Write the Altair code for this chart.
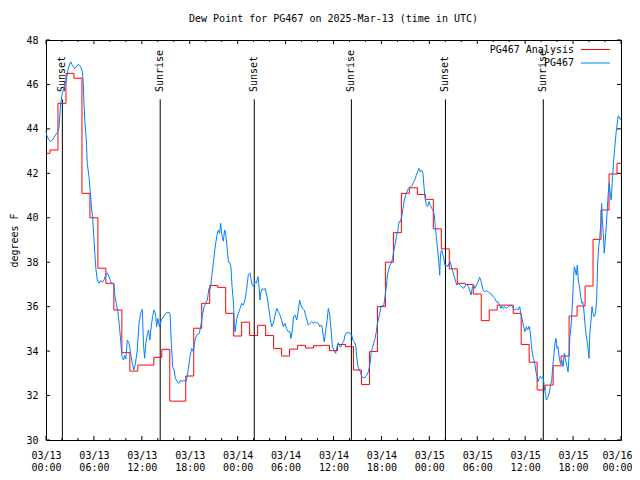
import altair as alt
import pandas as pd

FONT = "DejaVu Sans Mono"
W, H = 575, 400

title_text = "Dew Point for PG467 on 2025-Mar-13 (time in UTC)"
y_title = "degrees F"
series_names = ["PG467 Analysis", "PG467"]
series_colors = ["#ff0000", "#0080ff"]

# hours since 03/13 00:00 UTC
red_t = [0, 1, 2, 3, 4, 5, 6, 7, 8, 9, 10, 11, 12, 13, 14, 15, 16, 17, 18, 19, 20,
         21, 22, 23, 24, 25, 26, 27, 28, 29, 30, 31, 32, 33, 34, 35, 36, 37, 38, 39,
         40, 41, 42, 43, 44, 45, 46, 47, 48, 49, 50, 51, 52, 53, 54, 55, 56, 57, 58,
         59, 60, 61, 62, 63, 64, 65, 66, 67, 68, 69, 70, 71, 72]
red_v = [42.9, 43.05, 45.15, 46.5, 46.28, 41.1, 40.0, 37.73, 37.05, 35.85, 33.93,
         33.1, 33.37, 33.37, 33.72, 34.08, 31.75, 31.75, 32.88, 35.03, 36.15, 36.95,
         36.87, 35.7, 34.68, 35.3, 34.7, 35.16, 34.7, 34.12, 33.78, 34.09, 34.26,
         34.14, 34.24, 34.26, 34.02, 34.3, 34.2, 33.15, 32.5, 33.98, 36.0, 38.0,
         39.33, 41.1, 41.35, 41.05, 40.83, 39.5, 38.6, 37.7, 37.05, 37.0, 36.57,
         35.37, 35.85, 36.07, 36.07, 35.7, 34.3, 33.5, 32.25, 32.47, 33.34, 33.78,
         35.58, 36.03, 36.93, 39.03, 40.35, 41.97, 42.45]

blue_t = [0.0, 0.08, 0.3, 0.58, 0.8, 1.0, 1.2, 1.42, 1.63, 1.84, 2.05, 2.34, 2.55, 2.75,
          2.9, 3.09, 3.25, 3.38, 3.59, 3.75, 3.9, 4.09, 4.2, 4.34, 4.55, 4.67, 4.76,
          4.88, 5.05, 5.17, 5.38, 5.59, 5.72, 5.84, 6.01, 6.22, 6.42, 6.64, 6.84, 7.05,
          7.26, 7.47, 7.68, 7.89, 8.1, 8.3, 8.5, 8.64, 8.8, 9.0, 9.2, 9.35, 9.52, 9.7,
          9.85, 10.0, 10.18, 10.4, 10.6, 10.8, 11.0, 11.2, 11.43, 11.65, 11.85, 12.06,
          12.2, 12.35, 12.5, 12.7, 12.85, 13.0, 13.2, 13.35, 13.52, 13.7, 13.85, 14.0,
          14.2, 14.44, 14.7, 15.0, 15.27, 15.53, 15.7, 15.85, 16.03, 16.2, 16.45, 16.65,
          16.85, 17.05, 17.26, 17.45, 17.6, 17.8, 18.03, 18.24, 18.45, 18.66, 18.87,
          19.2, 19.4, 19.58, 19.8, 20.0, 20.2, 20.4, 20.6, 20.75, 20.95, 21.16, 21.37,
          21.58, 21.73, 21.87, 22.05, 22.2, 22.37, 22.5, 22.7, 22.85, 23.0, 23.15, 23.3,
          23.45, 23.58, 23.67, 23.9, 24.08, 24.3, 24.5, 24.7, 24.92, 25.13, 25.33,
          25.55, 25.66, 25.83, 26.0, 26.16, 26.33, 26.55, 26.67, 26.8, 26.92, 27.1,
          27.26, 27.43, 27.63, 27.76, 27.92, 28.1, 28.26, 28.47, 28.68, 28.9, 29.1,
          29.3, 29.5, 29.72, 29.93, 30.1, 30.35, 30.55, 30.68, 30.85, 31.0, 31.2, 31.4,
          31.6, 31.76, 31.93, 32.1, 32.35, 32.5, 32.67, 32.85, 33.06, 33.27, 33.47,
          33.68, 33.9, 34.1, 34.28, 34.45, 34.6, 34.73, 34.85, 35.0, 35.2, 35.35, 35.5,
          35.7, 35.86, 36.06, 36.27, 36.45, 36.6, 36.77, 36.94, 37.1, 37.27, 37.44,
          37.65, 37.86, 38.07, 38.28, 38.45, 38.6, 38.78, 38.9, 39.03, 39.2, 39.37,
          39.53, 39.74, 39.95, 40.16, 40.37, 40.58, 40.7, 40.86, 41.03, 41.2, 41.36,
          41.5, 41.62, 41.78, 41.95, 42.12, 42.28, 42.45, 42.62, 42.75, 42.9, 43.07,
          43.24, 43.4, 43.57, 43.7, 43.87, 44.04, 44.2, 44.37, 44.54, 44.7, 44.87,
          45.04, 45.2, 45.37, 45.54, 45.7, 45.87, 46.04, 46.2, 46.37, 46.54, 46.7,
          46.87, 47.04, 47.2, 47.33, 47.45, 47.62, 47.79, 47.95, 48.12, 48.3, 48.46,
          48.62, 48.75, 48.9, 49.05, 49.2, 49.3, 49.4, 49.55, 49.7, 49.84, 49.96,
          50.13, 50.3, 50.46, 50.63, 50.8, 50.96, 51.13, 51.3, 51.46, 51.63, 51.84,
          52.05, 52.26, 52.47, 52.68, 52.9, 53.05, 53.22, 53.4, 53.56, 53.7, 53.9,
          54.1, 54.3, 54.5, 54.73, 54.94, 55.15, 55.36, 55.57, 55.78, 55.98, 56.2,
          56.4, 56.6, 56.78, 56.95, 57.1, 57.28, 57.45, 57.66, 57.86, 58.07, 58.28,
          58.5, 58.7, 58.9, 59.1, 59.32, 59.45, 59.65, 59.8, 59.98, 60.15, 60.3, 60.5,
          60.65, 60.78, 60.9, 61.03, 61.2, 61.35, 61.5, 61.6, 61.75, 61.9, 62.07,
          62.24, 62.4, 62.52, 62.65, 62.8, 63.0, 63.15, 63.33, 63.45, 63.57, 63.74,
          63.86, 63.99, 64.1, 64.25, 64.4, 64.58, 64.74, 64.9, 65.07, 65.24, 65.37,
          65.5, 65.6, 65.74, 65.9, 66.03, 66.15, 66.28, 66.4, 66.53, 66.65, 66.8,
          66.95, 67.1, 67.2, 67.35, 67.45, 67.6, 67.74, 67.87, 68.0, 68.1, 68.25,
          68.37, 68.5, 68.65, 68.8, 68.95, 69.08, 69.2, 69.32, 69.5, 69.57, 69.66,
          69.78, 69.9, 70.03, 70.15, 70.28, 70.4, 70.53, 70.65, 70.78, 70.9, 71.03,
          71.15, 71.28, 71.4, 71.53, 71.65, 71.78, 71.9, 72.0]
blue_v = [43.9, 43.72, 43.55, 43.42, 43.5, 43.62, 43.75, 43.83, 44.07, 45.15, 45.6,
          45.97, 46.2, 46.65, 46.85, 47.02, 46.9, 46.83, 46.72, 46.78, 46.85, 46.9,
          46.85, 46.8, 46.57, 46.05, 45.15, 44.25, 43.5, 42.45, 41.85, 40.95, 40.35,
          40.05, 39.0, 37.8, 37.2, 37.05, 37.17, 37.1, 37.2, 37.42, 37.52, 37.35,
          37.12, 37.05, 37.0, 36.45, 36.15, 35.77, 35.1, 34.5, 33.75, 33.6, 33.8,
          33.65, 34.5, 34.35, 33.9, 33.45, 33.15, 33.45, 34.05, 35.25, 35.7, 35.88,
          34.35, 33.68, 34.35, 34.8, 34.95, 34.5, 35.17, 35.55, 35.85, 35.7, 35.1,
          35.47, 35.1, 35.4, 35.55, 35.7, 35.75, 35.7, 34.35, 33.3, 33.15, 32.77,
          32.62, 32.55, 32.7, 32.62, 32.7, 32.62, 32.7, 33.15, 33.75, 34.12, 33.97,
          34.5, 34.72, 34.8, 35.17, 35.62, 36.0, 36.15, 36.3, 36.82, 36.82, 37.35,
          37.95, 38.62, 39.15, 39.45, 39.3, 39.75, 39.15, 38.95, 39.45, 39.3, 38.55,
          38.0, 38.0, 37.8, 36.9, 36.3, 35.25, 34.87, 35.47, 35.7, 35.92, 36.15,
          36.07, 36.3, 36.82, 37.42, 37.52, 37.27, 36.97, 36.9, 37.12, 37.05, 37.35,
          36.9, 36.3, 36.67, 36.82, 36.75, 36.82, 36.52, 36.3, 35.85, 35.4, 35.1,
          35.25, 35.62, 35.92, 35.77, 35.62, 35.4, 35.1, 35.25, 35.03, 34.87, 34.87,
          34.57, 34.95, 35.55, 35.62, 35.4, 35.85, 36.3, 36.07, 35.92, 35.85, 35.62,
          35.4, 35.17, 35.25, 35.32, 35.25, 35.32, 35.27, 35.25, 35.1, 35.17, 35.03,
          34.65, 34.42, 34.87, 35.4, 35.92, 35.7, 34.95, 34.2, 34.05, 33.9, 34.2,
          34.38, 34.2, 34.2, 34.35, 34.42, 34.72, 34.83, 34.83, 34.8, 34.72, 34.47,
          34.42, 34.27, 33.75, 33.37, 33.15, 33.07, 32.85, 32.8, 32.82, 32.92, 33.07,
          33.45, 33.9, 34.12, 34.35, 34.57, 34.87, 35.25, 35.4, 35.7, 36.0, 36.07,
          36.0, 36.45, 36.9, 37.42, 37.65, 37.87, 37.95, 38.17, 38.55, 38.77, 39.15,
          39.37, 39.82, 39.82, 40.05, 40.42, 40.8, 41.02, 41.17, 41.32, 41.37, 41.4,
          41.47, 41.62, 41.72, 41.92, 42.07, 42.22, 42.07, 42.15, 42.0, 41.4, 40.95,
          40.57, 40.5, 40.72, 40.57, 40.42, 40.35, 40.12, 39.6, 39.07, 38.55, 37.95,
          37.42, 38.4, 38.55, 38.32, 38.1, 37.87, 37.87, 37.8, 37.95, 38.02, 37.72,
          37.57, 37.35, 37.12, 36.97, 37.05, 36.97, 36.9, 36.82, 36.93, 37.0, 36.9,
          36.75, 36.52, 36.9, 36.97, 36.82, 36.97, 37.12, 37.32, 37.12, 36.75, 36.67,
          36.72, 36.67, 36.6, 36.57, 36.45, 36.37, 36.22, 36.22, 36.07, 35.92, 36.03,
          35.92, 36.0, 35.92, 36.0, 36.03, 36.07, 35.92, 35.85, 35.92, 35.85, 36.0,
          35.7, 35.4, 35.1, 34.87, 35.1, 34.95, 35.12, 34.8, 34.27, 33.9, 33.67,
          33.45, 33.07, 32.85, 32.62, 32.77, 32.87, 32.77, 32.85, 32.4, 32.1, 31.8,
          31.87, 32.1, 32.4, 32.7, 33.3, 33.75, 34.35, 34.57, 34.12, 34.2, 33.75,
          33.45, 33.6, 33.3, 33.9, 33.6, 33.3, 33.07, 33.75, 34.65, 35.1, 36.0, 37.05,
          37.8, 37.65, 37.42, 37.87, 37.2, 36.9, 36.45, 36.15, 36.22, 35.85, 35.4,
          34.8, 34.5, 34.12, 33.67, 34.8, 35.4, 36.0, 35.7, 35.55, 35.7, 36.3, 37.95,
          38.7, 39.0, 39.9, 40.65, 39.97, 39.3, 38.4, 39.0, 39.6, 40.35, 41.1, 41.55,
          41.1, 40.8, 41.55, 42.3, 42.9, 43.42, 43.87, 44.25, 44.58, 44.55, 44.43,
          44.45]

sun_t = [2.05, 14.3, 26.08, 38.24, 50.02, 62.27]
sun_labels = ["Sunset", "Sunrise", "Sunset", "Sunrise", "Sunset", "Sunrise"]
sun_line_top = 45.33
sun_label_base = 45.66

x_major = [0, 6, 12, 18, 24, 30, 36, 42, 48, 54, 60, 66, 72]
x_minor = [2, 4, 8, 10, 14, 16, 20, 22, 26, 28, 32, 34, 38, 40, 44, 46, 50, 52,
           56, 58, 62, 64, 68, 70]
y_ticks = [30, 32, 34, 36, 38, 40, 42, 44, 46, 48]

red = pd.DataFrame({"t": red_t, "v": red_v})
blue = pd.DataFrame({"t": blue_t, "v": blue_v})
sun = pd.DataFrame({"t": sun_t, "label": sun_labels})
xmaj = pd.DataFrame({"t": x_major})
xmin = pd.DataFrame({"t": x_minor})
yt = pd.DataFrame({"v": y_ticks})

xs = alt.Scale(domain=[0, 72], nice=False, zero=False)
ys = alt.Scale(domain=[30, 48], nice=False, zero=False)

x_axis = alt.Axis(
    values=x_major,
    labelExpr="['03/' + (13 + floor(datum.value / 24)), (datum.value % 24 < 10 ? '0' : '') + (datum.value % 24) + ':00']",
    domain=False, ticks=False, grid=False, labelPadding=10, title=None,
    labelFont=FONT, labelFontSize=10, labelColor="black", labelLineHeight=12,
    labelOverlap=False, labelFlush=False,
    labelOffset={"condition": {"test": "datum.value >= 72", "value": -4}, "value": 0},
)
y_axis = alt.Axis(
    values=y_ticks, domain=False, ticks=False, grid=False, labelPadding=8,
    labelFont=FONT, labelFontSize=10, labelColor="black", title=y_title,
    titleFont=FONT, titleFontSize=10, titleFontWeight="normal", titleColor="black",
    titleAngle=270, titleX=-32, titleY=H / 2, titleAlign="center", titleBaseline="middle",
)

X = alt.X("t:Q", scale=xs, axis=x_axis)
Y = alt.Y("v:Q", scale=ys, axis=y_axis)

red_line = alt.Chart(red).mark_line(
    color=series_colors[0], strokeWidth=1, interpolate="step"
).encode(x=X, y=Y)
blue_line = alt.Chart(blue).mark_line(color=series_colors[1], strokeWidth=1).encode(
    x=X, y=Y)

sun_rules = alt.Chart(sun).mark_rule(color="black", strokeWidth=1).encode(
    x=X,
    y=alt.datum(sun_line_top, scale=ys, axis=y_axis),
    y2=alt.datum(30),
)
sun_text = alt.Chart(sun).mark_text(
    angle=270, align="left", baseline="middle", font=FONT, fontSize=10, color="black"
).encode(
    x=X,
    y=alt.datum(sun_label_base, scale=ys, axis=y_axis),
    text="label:N",
)

tick_layers = [
    alt.Chart(xmaj).mark_rule(color="black").encode(
        x=X, y=alt.value(H), y2=alt.value(H - 4)),
    alt.Chart(xmaj).mark_rule(color="black").encode(
        x=X, y=alt.value(0), y2=alt.value(4)),
    alt.Chart(xmin).mark_rule(color="black").encode(
        x=X, y=alt.value(H), y2=alt.value(H - 2)),
    alt.Chart(xmin).mark_rule(color="black").encode(
        x=X, y=alt.value(0), y2=alt.value(2)),
    alt.Chart(yt).mark_rule(color="black").encode(
        y=Y, x=alt.value(0), x2=alt.value(4)),
    alt.Chart(yt).mark_rule(color="black").encode(
        y=Y, x=alt.value(W), x2=alt.value(W - 4)),
]

legend_layers = []
for i, (name, col) in enumerate(zip(series_names, series_colors)):
    ldf = pd.DataFrame({"name": [name]})
    yy = 9.5 + 13.5 * i
    legend_layers.append(
        alt.Chart(ldf).mark_text(align="right", baseline="middle", font=FONT,
                                 fontSize=10, color="black").encode(
            x=alt.value(528), y=alt.value(yy), text="name:N"))
    legend_layers.append(
        alt.Chart(ldf).mark_rule(color=col, strokeWidth=1).encode(
            x=alt.value(535), x2=alt.value(564), y=alt.value(yy)))

chart = alt.layer(
    sun_rules, sun_text, red_line, blue_line, *tick_layers, *legend_layers
).properties(
    width=W, height=H,
    title=alt.TitleParams(title_text, font=FONT, fontSize=10, fontWeight="normal",
                          anchor="middle", offset=11, color="black"),
    padding={"left": 38, "top": 32, "right": 11, "bottom": 32},
    autosize=alt.AutoSizeParams(type="none"),
).configure_view(stroke="black", strokeWidth=1)

chart.save("out.html", embed_options={"renderer": "svg", "actions": False})
